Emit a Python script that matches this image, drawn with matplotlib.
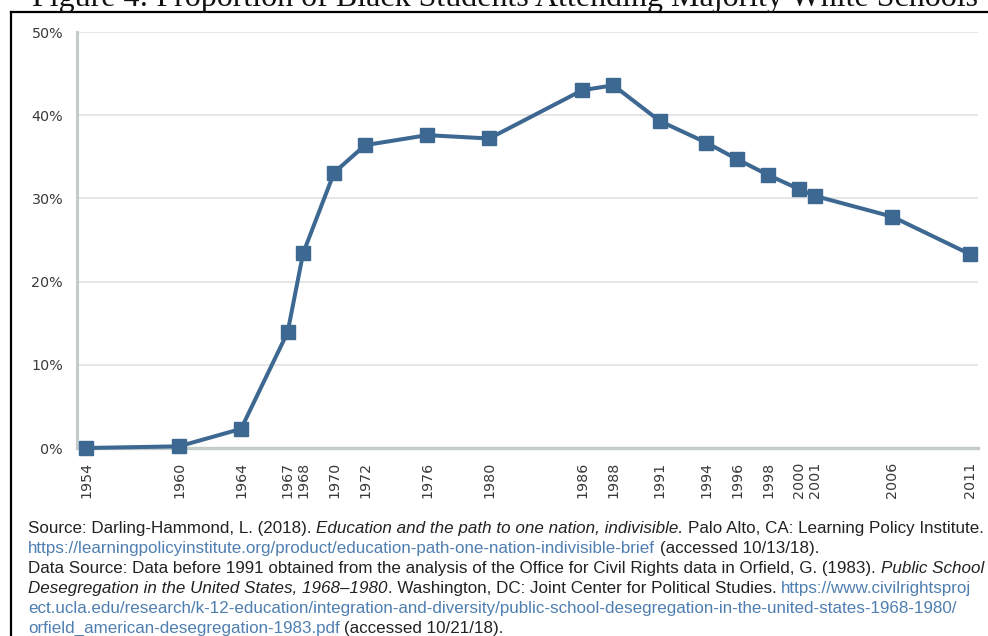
import matplotlib
matplotlib.use("Agg")
import matplotlib.pyplot as plt
from matplotlib.lines import Line2D

# ---- data ----
years = [1954, 1960, 1964, 1967, 1968, 1970, 1972, 1976, 1980, 1986, 1988,
         1991, 1994, 1996, 1998, 2000, 2001, 2006, 2011]
pct = [0.0, 0.2, 2.3, 13.9, 23.4, 33.1, 36.4, 37.6, 37.2, 43.0, 43.6,
       39.3, 36.7, 34.7, 32.8, 31.1, 30.3, 27.8, 23.3]
y_ticks = [0, 10, 20, 30, 40, 50]
y_tick_labels = ["0%", "10%", "20%", "30%", "40%", "50%"]
title = "Figure 4: Proportion of Black Students Attending Majority White Schools"

BLACK = "#222222"
BLUE = "#4f7fb0"
source_lines = [
    [("Source: Darling-Hammond, L. (2018).", "normal", BLACK),
     ("Education and the path to one nation, indivisible.", "italic", BLACK),
     ("Palo Alto, CA: Learning Policy Institute.", "normal", BLACK)],
    [("https://learningpolicyinstitute.org/product/education-path-one-nation-indivisible-brief", "normal", BLUE),
     ("(accessed 10/13/18).", "normal", BLACK)],
    [("Data Source: Data before 1991 obtained from the analysis of the Office for Civil Rights data in Orfield, G. (1983).", "normal", BLACK),
     ("Public School", "italic", BLACK)],
    [("Desegregation in the United States, 1968\u20131980", "italic", BLACK),
     (". Washington, DC: Joint Center for Political Studies.", "normal", BLACK, "nospace"),
     ("https://www.civilrightsproj", "normal", BLUE)],
    [("ect.ucla.edu/research/k-12-education/integration-and-diversity/public-school-desegregation-in-the-united-states-1968-1980/", "normal", BLUE)],
    [("orfield_american-desegregation-1983.pdf", "normal", BLUE),
     ("(accessed 10/21/18).", "normal", BLACK)],
]

W, H = 988, 636
fig = plt.figure(figsize=(W / 100, H / 100), dpi=100)
fig.patch.set_facecolor("white")

ax = fig.add_axes([77 / W, 1 - 448 / H, (978 - 77) / W, (448 - 32) / H])
LINE = "#3c6891"
ax.plot(years, pct, color=LINE, lw=2.9, marker="s", ms=10.5,
        markerfacecolor=LINE, markeredgecolor=LINE, clip_on=False, zorder=5)
ax.set_xlim(1953.42, 2011.52)
ax.set_ylim(0, 50)
ax.set_yticks(y_ticks)
ax.set_yticklabels(y_tick_labels)
ax.set_xticks(years)
ax.set_xticklabels([str(y) for y in years], rotation=90)
ax.tick_params(axis="both", length=0, labelsize=10.3, labelcolor="#3a3a3a",
               labelfontfamily="DejaVu Sans")
ax.tick_params(axis="y", pad=10)
ax.tick_params(axis="x", pad=10)
ax.grid(axis="y", color="#e2e2e2", lw=1.2)
ax.set_axisbelow(True)
for s in ["top", "right"]:
    ax.spines[s].set_visible(False)
ax.spines["left"].set_color("#c3cbcb")
ax.spines["left"].set_linewidth(2.2)
ax.spines["bottom"].set_color("#c3cbcb")
ax.spines["bottom"].set_linewidth(2.4)

# frame lines of the screenshot
fig.add_artist(Line2D([11 / W, 11 / W], [0, 1 - 12 / H], transform=fig.transFigure,
                      color="black", lw=1.6))
fig.add_artist(Line2D([11 / W, 1], [1 - 12 / H, 1 - 12 / H], transform=fig.transFigure,
                      color="black", lw=1.6))

r = fig.canvas.get_renderer()


def text_width(s, size, style, family):
    t = fig.text(0, 0, s, fontsize=size, fontstyle=style, family=family)
    w = t.get_window_extent(renderer=r).width
    t.remove()
    return w


# title (cropped at top)
TFAM = "Liberation Serif"
tw = text_width(title, 20, "normal", TFAM)
tsize = 20 * (945 / tw)
fig.text(32 / W, 1 - 6 / H, title, fontsize=tsize, family=TFAM, color="#111111",
         va="baseline", ha="left")

# source lines
SFAM = "Liberation Sans"
w0 = sum(text_width(p[0], 10, p[1], SFAM) for p in source_lines[0]) + \
    2 * (text_width("x x", 10, "normal", SFAM) - text_width("xx", 10, "normal", SFAM))
ssize = 10 * (957 / w0)
space = text_width("x x", ssize, "normal", SFAM) - text_width("xx", ssize, "normal", SFAM)

base_y = 533
for i, line in enumerate(source_lines):
    x = 28
    for j, piece in enumerate(line):
        s, style, color = piece[0], piece[1], piece[2]
        if j > 0 and not (len(piece) > 3 and piece[3] == "nospace"):
            x += space
        t = fig.text(x / W, 1 - (base_y + 20 * i) / H, s, fontsize=ssize,
                     fontstyle=style, color=color, family=SFAM,
                     va="baseline", ha="left")
        x = t.get_window_extent(renderer=r).x1

fig.savefig("out.png", dpi=100)
